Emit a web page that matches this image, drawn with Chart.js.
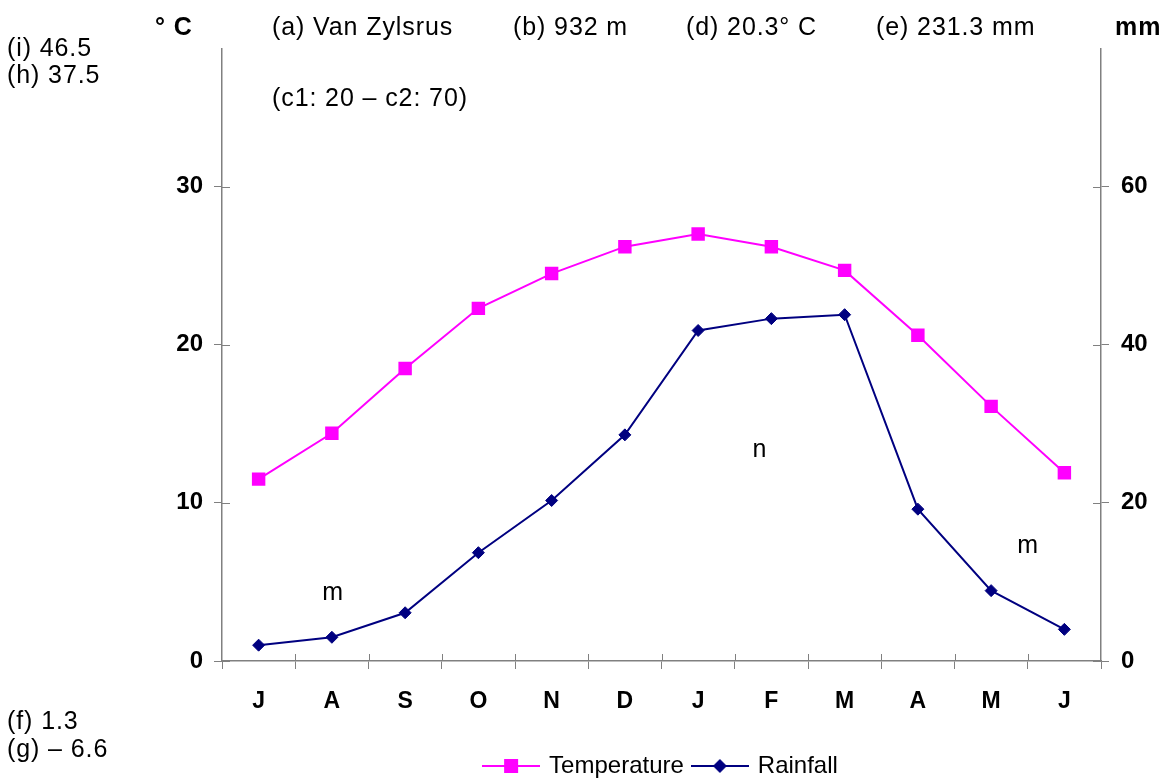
<!DOCTYPE html>
<html>
<head>
<meta charset="utf-8">
<script src="https://cdn.jsdelivr.net/npm/chart.js@4"></script>
<style>
  html, body { margin: 0; padding: 0; background: #fff; }
  #wrap { width: 1166px; height: 782px; }
</style>
</head>
<body>
<div id="wrap"><canvas id="climateChart" width="1166" height="782"></canvas></div>
<script>
const months = ['J', 'A', 'S', 'O', 'N', 'D', 'J', 'F', 'M', 'A', 'M', 'J'];
const temperature = [11.5, 14.4, 18.5, 22.3, 24.5, 26.2, 27.0, 26.2, 24.7, 20.6, 16.1, 11.9];
const rainfall = [2.0, 3.0, 6.1, 13.7, 20.3, 28.6, 41.8, 43.3, 43.8, 19.2, 8.9, 4.0];
const tempTicks = [0, 10, 20, 30];
const rainTicks = [0, 20, 40, 60];

const FONT = '"Liberation Sans", Arial, sans-serif';
const axisGrey = '#808080';

// little line+marker images for the legend
function legendIcon(color, shape) {
  const c = document.createElement('canvas');
  c.width = 58; c.height = 20;
  const g = c.getContext('2d');
  g.strokeStyle = color;
  g.lineWidth = 2;
  g.beginPath(); g.moveTo(0, 10); g.lineTo(58, 10); g.stroke();
  g.fillStyle = color;
  if (shape === 'square') {
    g.fillRect(22, 3, 14, 14);
  } else {
    g.beginPath();
    g.moveTo(29, 3); g.lineTo(36, 10); g.lineTo(29, 17); g.lineTo(22, 10);
    g.closePath(); g.fill();
  }
  return c;
}

const notes = [
  { text: '° C', x: 155, y: 28, bold: true },
  { text: '(a) Van Zylsrus', x: 272, y: 28 },
  { text: '(b) 932 m', x: 513, y: 28 },
  { text: '(d) 20.3° C', x: 686, y: 28 },
  { text: '(e) 231.3 mm', x: 876, y: 28 },
  { text: 'mm', x: 1115, y: 28, bold: true },
  { text: '(i) 46.5', x: 7, y: 49 },
  { text: '(h) 37.5', x: 7, y: 76 },
  { text: '(c1: 20 – c2: 70)', x: 272, y: 99 },
  { text: 'm', x: 333, y: 593, center: true },
  { text: 'n', x: 760, y: 450, center: true },
  { text: 'm', x: 1028, y: 546, center: true },
  { text: '(f) 1.3', x: 7, y: 722 },
  { text: '(g) – 6.6', x: 7, y: 750 },
];

const notesPlugin = {
  id: 'notes',
  afterDraw(chart) {
    const ctx = chart.ctx;
    ctx.save();
    // inner half of the tick marks (they cross the axes)
    ctx.strokeStyle = axisGrey;
    ctx.lineWidth = 1;
    const yl = chart.scales.y, yr = chart.scales.y1, x = chart.scales.x;
    tempTicks.forEach(v => {
      const p = Math.round(yl.getPixelForValue(v)) + 0.5;
      ctx.beginPath(); ctx.moveTo(yl.right, p); ctx.lineTo(yl.right + 8, p); ctx.stroke();
    });
    rainTicks.forEach(v => {
      const p = Math.round(yr.getPixelForValue(v)) + 0.5;
      ctx.beginPath(); ctx.moveTo(yr.left - 8, p); ctx.lineTo(yr.left, p); ctx.stroke();
    });
    for (let i = 1; i < months.length; i++) {
      const p = Math.round((x.getPixelForValue(i - 1) + x.getPixelForValue(i)) / 2) + 0.5;
      ctx.beginPath(); ctx.moveTo(p, x.top - 7); ctx.lineTo(p, x.top); ctx.stroke();
    }

    ctx.fillStyle = '#000';
    ctx.textBaseline = 'middle';
    ctx.letterSpacing = '0.9px';
    notes.forEach(n => {
      ctx.font = (n.bold ? 'bold ' : '') + '25px ' + FONT;
      ctx.textAlign = n.center ? 'center' : 'left';
      ctx.fillText(n.text, n.x, n.y);
    });
    ctx.restore();
  }
};

new Chart(document.getElementById('climateChart').getContext('2d'), {
  type: 'line',
  data: {
    labels: months,
    datasets: [{
      label: 'Temperature',
      data: temperature,
      yAxisID: 'y',
      borderColor: '#FF00FF',
      backgroundColor: '#FF00FF',
      borderWidth: 2,
      pointStyle: 'rect',
      pointRadius: 9.5,
      pointBorderWidth: 0,
      tension: 0,
    }, {
      label: 'Rainfall',
      data: rainfall,
      yAxisID: 'y1',
      borderColor: '#000080',
      backgroundColor: '#000080',
      borderWidth: 2,
      pointStyle: 'rectRot',
      pointRadius: 6,
      pointBorderWidth: 1,
      tension: 0,
    }]
  },
  options: {
    responsive: false,
    animation: false,
    layout: { padding: { top: 49, left: 0, right: 0, bottom: -6 } },
    scales: {
      x: {
        offset: true,
        grid: {
          offset: true,
          drawOnChartArea: false,
          color: axisGrey,
          tickLength: 8,
        },
        border: { color: axisGrey, width: 1.5 },
        ticks: {
          color: '#000',
          padding: 19,
          font: { family: FONT, size: 23, weight: 'bold' },
          maxRotation: 0,
        },
        afterFit: s => { s.height = 83; }
      },
      y: {
        position: 'left',
        min: 0,
        max: 38.7,
        afterBuildTicks: s => { s.ticks = tempTicks.map(v => ({ value: v })); },
        grid: { drawOnChartArea: false, color: axisGrey, tickLength: 8 },
        border: { color: axisGrey, width: 1.5 },
        ticks: {
          color: '#000',
          padding: 11,
          font: { family: FONT, size: 24, weight: 'bold' },
        },
        afterFit: s => { s.width = 222; }
      },
      y1: {
        position: 'right',
        min: 0,
        max: 77.4,
        afterBuildTicks: s => { s.ticks = rainTicks.map(v => ({ value: v })); },
        grid: { drawOnChartArea: false, color: axisGrey, tickLength: 8 },
        border: { color: axisGrey, width: 1.5 },
        ticks: {
          color: '#000',
          padding: 12,
          font: { family: FONT, size: 24, weight: 'bold' },
        },
        afterFit: s => { s.width = 65; }
      }
    },
    plugins: {
      legend: {
        position: 'bottom',
        fullSize: false,
        labels: {
          usePointStyle: true,
          pointStyleWidth: 52,
          padding: 10,
          color: '#000',
          font: { family: FONT, size: 24 },
          generateLabels: chart => chart.data.datasets.map((ds, i) => ({
            text: ds.label,
            datasetIndex: i,
            fontColor: '#000',
            lineWidth: 0,
            pointStyle: legendIcon(ds.borderColor, i === 0 ? 'square' : 'diamond'),
          }))
        }
      },
      tooltip: { enabled: false }
    }
  },
  plugins: [notesPlugin]
});
</script>
</body>
</html>
